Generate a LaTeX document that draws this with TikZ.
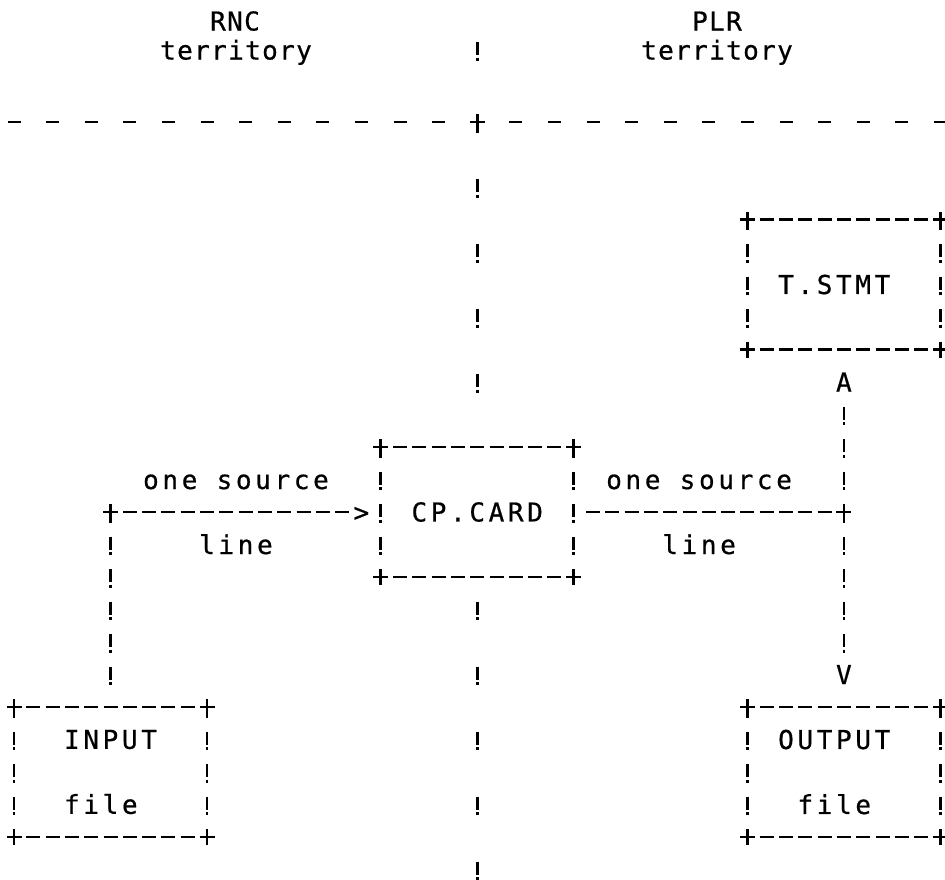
\documentclass[tikz,border=0pt]{standalone}
\usepackage{fontspec}
\newfontfamily\twfont[LetterSpace=14,FakeBold=0.6]{DejaVu Sans Mono}
\newfontfamily\hdfont[LetterSpace=5.2,FakeBold=0.6]{DejaVu Sans Mono}
\newcommand\asciibox[1]{%
  \draw[hdash] (#1.north west) -- (#1.north east);
  \draw[hdash] (#1.south west) -- (#1.south east);
  \draw[bang] (#1.north west) -- (#1.south west);
  \draw[bang] (#1.north east) -- (#1.south east);
  \pic at (#1.north west) {plusmark};
  \pic at (#1.north east) {plusmark};
  \pic at (#1.south west) {plusmark};
  \pic at (#1.south east) {plusmark};
}
\begin{document}
\begin{tikzpicture}[x=1pt,y=1pt,
  ink/.style={line width=2.7pt, black},
  hdash/.style={ink, dash pattern=on 14pt off 5.3pt, dash phase=7pt},
  bang/.style={ink, dash pattern=on 13pt off 2.5pt on 3pt off 14pt, dash phase=8pt},
  sparsebang/.style={ink, dash pattern=on 13pt off 2.5pt on 3pt off 46.5pt},
  widedash/.style={ink, dash pattern=on 13pt off 25.6pt},
  txt/.style={font=\twfont\fontsize{26}{32.5}\selectfont, inner sep=0pt, outer sep=0pt, text height=19pt, text depth=0pt},
  hdtxt/.style={font=\hdfont\fontsize{26}{32.5}\selectfont, inner sep=0pt, outer sep=0pt, text height=19pt, text depth=0pt},
  boxnode/.style={font=\twfont\fontsize{26}{32.5}\selectfont, rectangle, inner sep=0pt, outer sep=0pt, minimum width=193pt, minimum height=130pt},
  plusmark/.pic={\draw[line width=2.7pt] (-7.5pt,0pt) -- (7.5pt,0pt) (0pt,-8pt) -- (0pt,8pt);}
]
\useasboundingbox (0,0) rectangle (945,-879);

% header
\node[hdtxt] (rnc)  at (235,-21) {RNC};
\node[hdtxt] (rnct) at (236,-50) {territory};
\node[hdtxt] (plr)  at (717,-21) {PLR};
\node[hdtxt] (plrt) at (717,-50) {territory};

% boxes
\node[boxnode] (tstmt) at ({14+19.3*43},{-24.5-32.5*8}) {T.STMT\hspace*{19.3pt}};
\node[boxnode] (cpcard) at ({14+19.3*24},{-24.5-32.5*15}) {CP.CARD};
\node[boxnode, align=left] (input) at ({14+19.3*5},{-24.5-32.5*23}) {INPUT\\[32.5pt]file};
\node[boxnode, align=center] (output) at ({14+19.3*43},{-24.5-32.5*23}) {OUTPUT\hspace*{19.3pt}\\[32.5pt]file\hspace*{19.3pt}};

% arrow-head characters
\node[txt] (tipA) at ({14+19.3*43},{-24.5-32.5*11}) {A};
\node[txt] (tipV) at ({14+19.3*43},{-24.5-32.5*20}) {V};
\node[txt] (gt)   at ({14+19.3*18},{-24.5-32.5*15}) {>};

% coordinates
\coordinate (corner1)  at ({14+19.3*5},{-24.5-32.5*15});
\coordinate (junction) at ({14+19.3*43},{-24.5-32.5*15});
\coordinate (plus0)    at ({14+19.3*24},-122);
\coordinate (divL)     at (7.5,-122);
\coordinate (divR)     at (947,-122);
\coordinate (bottomend) at ({14+19.3*24},-880);
\coordinate (hb1) at ({14+19.3*24},-42);
\coordinate (hb2) at ({14+19.3*24},-60.5);

% box outlines
\asciibox{tstmt}
\asciibox{cpcard}
\asciibox{input}
\asciibox{output}

% territory divider
\draw[widedash] (divL) -- (divR);
\pic at (plus0) {plusmark};
\draw[bang, dash phase=0pt] (hb1) -- (hb2);
\draw[sparsebang, dash phase=8pt, shorten >=9pt] (plus0) -- (cpcard.north);
\draw[sparsebang, dash phase=40.5pt] (cpcard.south) -- (bottomend);

% connectors
\draw[bang, shorten >=9pt] (corner1) -- (input.north);
\draw[hdash, shorten >=8pt] (corner1) -- (gt.center)
  node[txt, midway, yshift=32.5pt] (src1) {one source}
  node[txt, midway, yshift=-32.5pt] (line1) {line};
\pic at (corner1) {plusmark};

\draw[hdash, shorten <=7pt, dash phase=14pt] (cpcard.east) -- (junction)
  node[txt, pos=0.464, yshift=32.5pt] (src2) {one source}
  node[txt, pos=0.464, yshift=-32.5pt] (line2) {line};
\pic at (junction) {plusmark};
\draw[bang, shorten <=11pt, dash phase=19pt] (tipA.center) -- (junction);
\draw[bang, shorten >=10pt] (junction) -- (tipV.center);
\end{tikzpicture}
\end{document}
